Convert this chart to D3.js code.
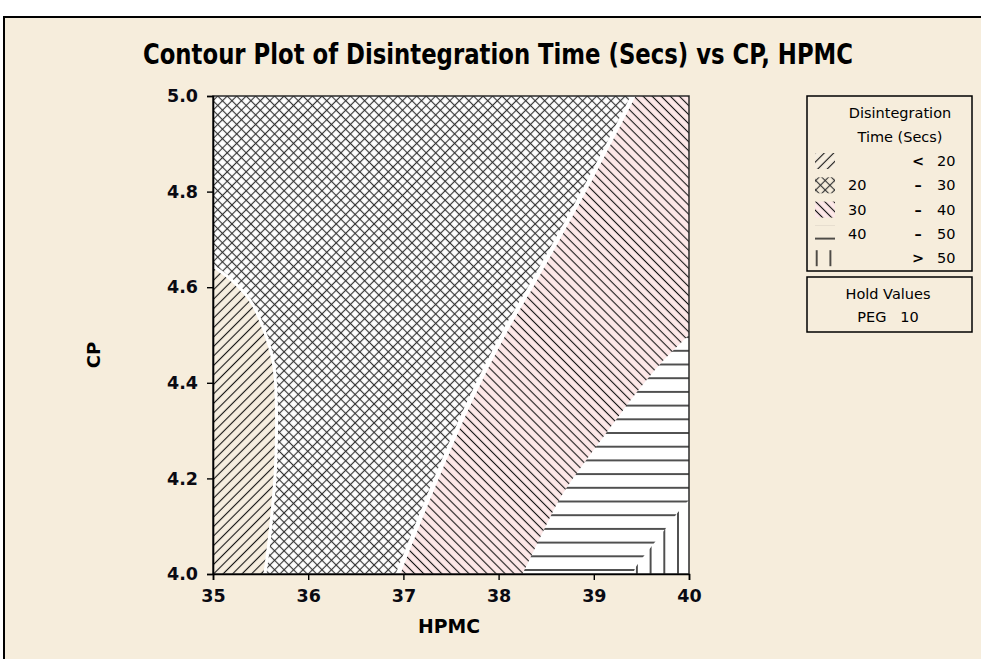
<!DOCTYPE html>
<html>
<head>
<meta charset="utf-8">
<script src="https://cdn.jsdelivr.net/npm/d3@7"></script>
<style>
  html, body { margin: 0; padding: 0; background: #ffffff; }
  svg { display: block; }
</style>
</head>
<body>
<svg id="chart" width="981" height="659"></svg>
<script>
// ---- data -------------------------------------------------------------
const xDomain = [35, 40];                 // HPMC
const yDomain = [4.0, 5.0];               // CP
const xTicks = [35, 36, 37, 38, 39, 40];
const yTicks = [4.0, 4.2, 4.4, 4.6, 4.8, 5.0];

// contour lines of Disintegration Time, as [HPMC, CP] points
const contour20 = [[35.0, 4.64], [35.2, 4.61], [35.38, 4.57], [35.52, 4.51], [35.62, 4.44],
                   [35.65, 4.35], [35.64, 4.22], [35.59, 4.10], [35.53, 4.0]];
const contour30 = [[39.44, 5.0], [39.0, 4.83], [38.42, 4.62], [38.1, 4.51], [37.72, 4.36],
                   [37.33, 4.18], [36.97, 4.0]];
const contour40 = [[40.0, 4.50], [39.7, 4.44], [39.41, 4.37], [39.15, 4.30], [38.89, 4.23],
                   [38.65, 4.16], [38.47, 4.09], [38.3, 4.02], [38.25, 4.0]];
const contour50 = [[40.0, 4.155], [39.88, 4.128], [39.75, 4.094], [39.6, 4.056],
                   [39.45, 4.017], [39.41, 4.0]];

const legendRows = [
  { key: "lt20",  lo: "",   op: "<", hi: "20" },
  { key: "r2030", lo: "20", op: "–", hi: "30" },
  { key: "r3040", lo: "30", op: "–", hi: "40" },
  { key: "r4050", lo: "40", op: "–", hi: "50" },
  { key: "gt50",  lo: "",   op: ">", hi: "50" }
];
const legendTitle = ["Disintegration", "Time (Secs)"];
const holdTitle = "Hold Values";
const holdName = "PEG";
const holdValue = 10;

const titleText = "Contour Plot of Disintegration Time (Secs) vs CP, HPMC";
const xLabel = "HPMC";
const yLabel = "CP";

// ---- look -------------------------------------------------------------
const PAGE_BG = "#f6eddc";
const INK = "#0a0a12";
const FONT = "'DejaVu Sans', Verdana, sans-serif";
const FONT_NARROW = "'DejaVu Sans Condensed', 'DejaVu Sans', sans-serif";

// fill patterns for each band
const fills = {
  lt20:  { bg: "#f6eee0", angle: 45,  lines: "v",  s: 6.7,  stroke: "#141414", w: 1.1 },
  r2030: { bg: "#ffffff", angle: 45,  lines: "vh", s: 6.7,  stroke: "#333333", w: 1.15 },
  r3040: { bg: "#fde8e8", angle: -45, lines: "v",  s: 6.4,  stroke: "#141414", w: 1.1 },
  r4050: { bg: "#ffffff", angle: 0,   lines: "h",  s: 13.7, stroke: "#0a0a0a", w: 1.4 },
  gt50:  { bg: "#ffffff", angle: 0,   lines: "v",  s: 13.7, stroke: "#0a0a0a", w: 1.4 }
};

const plot = { left: 213, top: 96, right: 689, bottom: 574 };
const pw = plot.right - plot.left, ph = plot.bottom - plot.top;

const svg = d3.select("#chart");
const defs = svg.append("defs");

function makePattern(id, spec, ox, oy, withBg) {
  const s = spec.s;
  const p = defs.append("pattern")
    .attr("id", id)
    .attr("patternUnits", "userSpaceOnUse")
    .attr("width", s).attr("height", s)
    .attr("x", ox).attr("y", oy);
  if (spec.angle) p.attr("patternTransform", `rotate(${spec.angle})`);
  if (withBg) p.append("rect").attr("width", s).attr("height", s).attr("fill", spec.bg);
  const g = p.append("g").attr("stroke", spec.stroke).attr("stroke-width", spec.w);
  if (spec.lines.includes("v"))
    g.append("line").attr("x1", s / 2).attr("x2", s / 2).attr("y1", -1).attr("y2", s + 1);
  if (spec.lines.includes("h"))
    g.append("line").attr("y1", s / 2).attr("y2", s / 2).attr("x1", -1).attr("x2", s + 1);
}

// plot patterns (coordinates relative to the plot group)
makePattern("p-lt20", fills.lt20, 0, 0, true);
makePattern("p-r2030", fills.r2030, 0, 0, true);
makePattern("p-r3040", fills.r3040, 0, 0, true);
makePattern("p-r4050", fills.r4050, 0, 474 - 6.85 - 13.7 * 34, true);
makePattern("p-gt50", fills.gt50, 465 - 6.85 - 13.7 * 33, 0, true);

// ---- page & frame -----------------------------------------------------
svg.append("rect").attr("x", 0).attr("y", 0).attr("width", 981).attr("height", 659).attr("fill", "#ffffff");
svg.append("rect").attr("x", 4).attr("y", 17).attr("width", 981).attr("height", 659).attr("fill", PAGE_BG);
svg.append("path")
  .attr("d", "M4,659 V17 H981")
  .attr("fill", "none").attr("stroke", "#000").attr("stroke-width", 2);

// ---- title ------------------------------------------------------------
svg.append("text")
  .attr("x", 498).attr("y", 64)
  .attr("text-anchor", "middle")
  .attr("font-family", FONT_NARROW)
  .attr("font-weight", "bold")
  .attr("font-size", 29)
  .attr("textLength", 710)
  .attr("lengthAdjust", "spacingAndGlyphs")
  .attr("fill", "#000")
  .text(titleText);

// ---- scales -----------------------------------------------------------
const x = d3.scaleLinear().domain(xDomain).range([0, pw]);
const y = d3.scaleLinear().domain(yDomain).range([ph, 0]);

const g = svg.append("g").attr("transform", `translate(${plot.left},${plot.top})`);
const clip = defs.append("clipPath").attr("id", "plot-clip");
clip.append("rect").attr("width", pw).attr("height", ph);
const regions = g.append("g").attr("clip-path", "url(#plot-clip)");

const curve = d3.line().x(d => x(d[0])).y(d => y(d[1])).curve(d3.curveCatmullRom.alpha(0.5));
const pt = d => `${x(d[0])},${y(d[1])}`;
function region(line, corners) {
  return curve(line) + corners.map(c => "L" + pt(c)).join("") + "Z";
}
// blank seam left on the cross-hatched side of a band edge
function seam(line, width) {
  regions.append("path").attr("d", curve(line))
    .attr("fill", "none").attr("stroke", "#ffffff").attr("stroke-width", width);
}

// 20 – 30 band fills the whole field, the others are laid on top
regions.append("rect").attr("width", pw).attr("height", ph).attr("fill", "url(#p-r2030)");
seam(contour20, 6);
regions.append("path")
  .attr("d", region(contour20, [[35, 4.0]]))
  .attr("fill", "url(#p-lt20)");
seam(contour30, 9);
regions.append("path")
  .attr("d", region(contour30, [[40, 4.0], [40, 5.0]]))
  .attr("fill", "url(#p-r3040)");
regions.append("path")
  .attr("d", region(contour40, [[40, 4.0]]))
  .attr("fill", "url(#p-r4050)");
regions.append("path")
  .attr("d", region(contour50, [[40, 4.0]]))
  .attr("fill", "url(#p-gt50)");

// plot border
g.append("rect").attr("width", pw).attr("height", ph)
  .attr("fill", "none").attr("stroke", "#2a2a2a").attr("stroke-width", 1.5);

// ---- axes -------------------------------------------------------------
const xAxis = g.append("g")
  .attr("transform", `translate(0,${ph})`)
  .call(d3.axisBottom(x).tickValues(xTicks).tickFormat(d3.format("d")).tickSize(6).tickPadding(10));
const yAxis = g.append("g")
  .call(d3.axisLeft(y).tickValues(yTicks).tickFormat(d3.format(".1f")).tickSize(6).tickPadding(9));

[xAxis, yAxis].forEach(a => {
  a.select(".domain").attr("stroke", "#000").attr("stroke-width", 1.6);
  a.selectAll(".tick line").attr("stroke", "#000").attr("stroke-width", 1.4);
  a.selectAll(".tick text")
    .attr("font-family", FONT)
    .attr("font-weight", "bold")
    .attr("font-size", 17.5)
    .attr("fill", INK);
});

svg.append("text")
  .attr("x", 449).attr("y", 633)
  .attr("text-anchor", "middle")
  .attr("font-family", FONT)
  .attr("font-weight", "bold")
  .attr("font-size", 20)
  .attr("textLength", 62)
  .attr("lengthAdjust", "spacingAndGlyphs")
  .attr("fill", "#000")
  .text(xLabel);

svg.append("text")
  .attr("transform", "translate(100,355) rotate(-90)")
  .attr("text-anchor", "middle")
  .attr("font-family", FONT)
  .attr("font-weight", "bold")
  .attr("font-size", 18)
  .attr("fill", "#000")
  .text(yLabel);

// ---- legend -----------------------------------------------------------
const leg = { x: 807, y: 96, w: 165, h: 175 };
svg.append("rect")
  .attr("x", leg.x).attr("y", leg.y).attr("width", leg.w).attr("height", leg.h)
  .attr("fill", PAGE_BG).attr("stroke", "#000").attr("stroke-width", 1.5);

svg.selectAll("text.leg-title").data(legendTitle).enter().append("text")
  .attr("class", "leg-title")
  .attr("x", 900).attr("y", (d, i) => 118 + i * 24)
  .attr("text-anchor", "middle")
  .attr("font-family", FONT).attr("font-size", 14.5).attr("fill", "#000")
  .text(d => d);

const rowBase = i => 166 + i * 24.3;
const sw = { x: 815, w: 20, h: 16 };
legendRows.forEach((r, i) => {
  const b = rowBase(i);
  const top = b - 13;
  const spec = fills[r.key];
  let ox = sw.x, oy = top;
  if (r.key === "r4050") oy = b - 14 - 6.85;
  if (r.key === "gt50") ox = 816.7 - 6.85;
  const withBg = (r.key === "lt20" || r.key === "r3040");
  makePattern("lp-" + r.key, spec, ox, oy, withBg);
  svg.append("rect")
    .attr("x", sw.x).attr("y", top).attr("width", sw.w).attr("height", sw.h)
    .attr("fill", "url(#lp-" + r.key + ")");
  const t = svg.append("g").attr("font-family", FONT).attr("font-size", 14.5).attr("fill", "#000");
  t.append("text").attr("x", 848).attr("y", b).text(r.lo);
  t.append("text").attr("x", 918).attr("y", b).attr("text-anchor", "middle")
    .attr("font-weight", "bold").text(r.op);
  t.append("text").attr("x", 937).attr("y", b).text(r.hi);
});

// hold values box
const hold = { x: 807, y: 277, w: 165, h: 55 };
svg.append("rect")
  .attr("x", hold.x).attr("y", hold.y).attr("width", hold.w).attr("height", hold.h)
  .attr("fill", PAGE_BG).attr("stroke", "#000").attr("stroke-width", 1.5);
svg.append("text")
  .attr("x", 888).attr("y", 299).attr("text-anchor", "middle")
  .attr("font-family", FONT).attr("font-size", 14.5).attr("fill", "#000")
  .text(holdTitle);
svg.append("text")
  .attr("x", 888).attr("y", 322).attr("text-anchor", "middle")
  .attr("font-family", FONT).attr("font-size", 14.5).attr("fill", "#000")
  .attr("xml:space", "preserve")
  .text(`${holdName}   ${holdValue}`);
</script>
</body>
</html>
